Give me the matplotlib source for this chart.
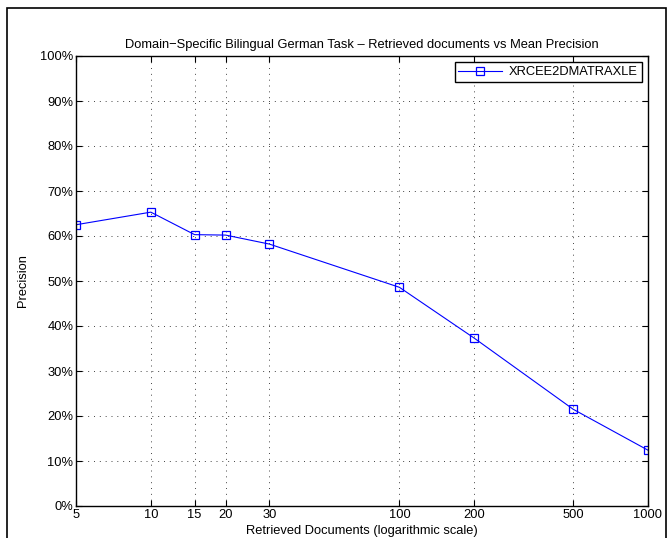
import matplotlib
matplotlib.use("Agg")
import matplotlib.pyplot as plt
from matplotlib.patches import Rectangle
from matplotlib.ticker import FixedLocator, FixedFormatter, NullLocator

plt.rcParams['font.family'] = ['Liberation Sans', 'DejaVu Sans']

# valeurs
docs = [5, 10, 15, 20, 30, 100, 200, 500, 1000]
precision = [62.5, 65.3, 60.3, 60.2, 58.2, 48.6, 37.3, 21.5, 12.4]
xticks = [5, 10, 15, 20, 30, 100, 200, 500, 1000]
yticks = list(range(0, 101, 10))
run_name = "XRCEE2DMATRAXLE"

fs = 9.3

fig = plt.figure(figsize=(6.67, 5.38), dpi=100)
ax = fig.add_axes([76 / 667, 32 / 538, 572 / 667, 450 / 538])

ax.plot(docs, precision, color='#0000ff', linewidth=0.8, marker='s', markersize=5.3,
        markerfacecolor='none', markeredgecolor='#0000ff', markeredgewidth=0.9,
        label=run_name)

ax.set_xscale('log')
ax.set_xlim(5, 1000)
ax.set_ylim(0, 100)
ax.xaxis.set_major_locator(FixedLocator(xticks))
ax.xaxis.set_major_formatter(FixedFormatter([str(t) for t in xticks]))
ax.xaxis.set_minor_locator(NullLocator())
ax.set_yticks(yticks)
ax.set_yticklabels([f"{t}%" for t in yticks])

ax.grid(True, linestyle=(0, (1, 5)), color='#444444', linewidth=0.7)
ax.tick_params(direction='in', top=True, right=True, length=4, width=0.8,
               labelsize=fs, pad=2)
for s in ax.spines.values():
    s.set_linewidth(1.0)

ax.set_title("Domain\u2212Specific Bilingual German Task \u2013 Retrieved documents vs Mean Precision",
             fontsize=fs, pad=6)
ax.set_xlabel("Retrieved Documents (logarithmic scale)", fontsize=fs, labelpad=3)
ax.set_ylabel("Precision", fontsize=fs, labelpad=8)

leg = ax.legend(loc='upper right', fontsize=fs, fancybox=False, framealpha=1,
                edgecolor='black', borderpad=0.3, handlelength=3.4,
                handletextpad=0.5, borderaxespad=0.5)
leg.get_frame().set_linewidth(1.0)

# cadre autour de la figure
fig.patches.append(Rectangle((7 / 667, -0.1), 659 / 667, 1.1 - 8 / 538,
                             transform=fig.transFigure, fill=False,
                             edgecolor='black', linewidth=1.2))

fig.savefig("out.png", dpi=100)
